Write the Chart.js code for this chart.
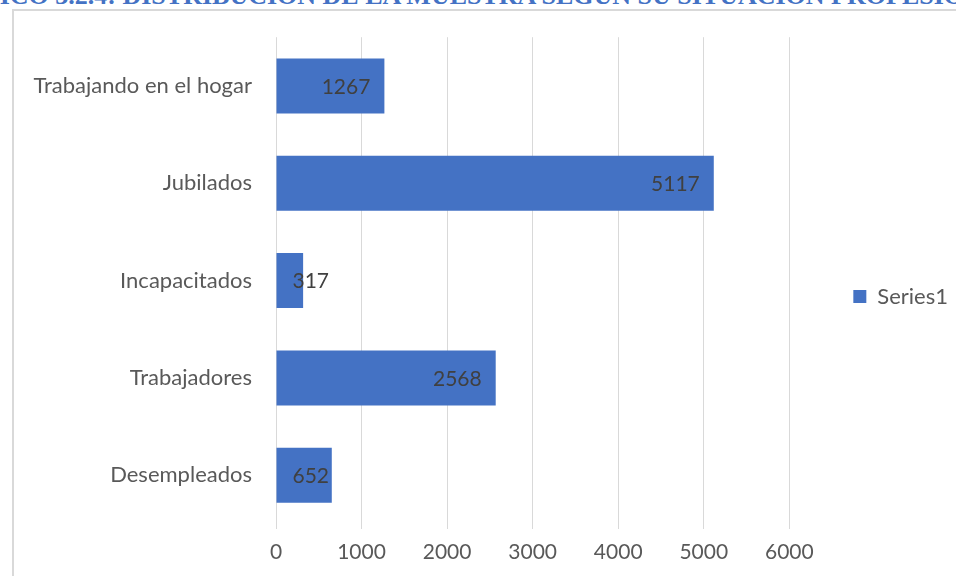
<!DOCTYPE html>
<html>
<head>
<meta charset="utf-8">
<script src="https://cdn.jsdelivr.net/npm/chart.js@4"></script>
<style>
  html, body { margin: 0; padding: 0; background: #fff; }
  body { width: 956px; height: 576px; overflow: hidden; position: relative; }
  #titulo { position: absolute; top: -19px; left: 0; white-space: nowrap; line-height: 1;
    font: bold 26px "Liberation Serif", "Times New Roman", serif; color: #4472c4; }
  #marco { position: absolute; left: 12px; top: 9px; width: 1100px; height: 700px;
    border: 2px solid #d9d9d9; box-sizing: border-box; }
  #caja { position: absolute; left: 0; top: 0; width: 956px; height: 576px; }
</style>
</head>
<body>
<div id="titulo"><span id="corte">GRÁF</span>ICO 3.2.4: DISTRIBUCIÓN DE LA MUESTRA SEGÚN SU SITUACIÓN PROFESIONAL</div>
<div id="marco"></div>
<div id="caja"><canvas id="graph" width="956" height="576"></canvas></div>
<script>
// recortar el titulo como en la imagen
const corte = document.getElementById('corte')
document.getElementById('titulo').style.left = (-corte.offsetWidth) + 'px'

// datos
const categorias = ['Trabajando en el hogar', 'Jubilados', 'Incapacitados', 'Trabajadores', 'Desempleados']
const valores = [1267, 5117, 317, 2568, 652]
const serie = 'Series1'
const marcasX = [0, 1000, 2000, 3000, 4000, 5000, 6000]

const fuente = 'Lato, "Open Sans", sans-serif'
const tam = 22

// etiquetas de datos dentro del extremo de la barra
const etiquetas = {
  id: 'etiquetas',
  afterLayout(chart) {
    // subir un poco la leyenda
    chart.legend.top -= 10
    chart.legend.bottom -= 10
  },
  afterDatasetsDraw(chart) {
    const ctx = chart.ctx
    const meta = chart.getDatasetMeta(0)
    ctx.save()
    ctx.font = '21px ' + fuente
    ctx.fillStyle = '#404040'
    ctx.textAlign = 'right'
    ctx.textBaseline = 'middle'
    meta.data.forEach((bar, i) => {
      const txt = String(chart.data.datasets[0].data[i])
      const w = ctx.measureText(txt).width
      const x = Math.max(bar.x - 14, bar.base + 16 + w)
      ctx.fillText(txt, x, bar.y + 1)
    })
    ctx.restore()
  }
}

const data = {
  labels: categorias,
  datasets: [{
    label: serie,
    data: valores,
    backgroundColor: '#4472c4',
    borderWidth: 0,
    categoryPercentage: 1,
    barPercentage: 0.565
  }]
}

const config = {
  type: 'bar',
  data: data,
  plugins: [etiquetas],
  options: {
    indexAxis: 'y',
    responsive: false,
    animation: false,
    layout: { padding: { top: 37, left: 0, right: -2, bottom: 0 } },
    plugins: {
      tooltip: { enabled: false },
      legend: {
        position: 'right',
        labels: {
          boxWidth: 13, boxHeight: 13, padding: 64,
          color: '#595959',
          font: { family: fuente, size: tam }
        }
      }
    },
    scales: {
      x: {
        min: 0, max: 6000,
        afterBuildTicks(s) { s.ticks = marcasX.map(v => ({ value: v })) },
        afterFit(s) { s.height = 52 },
        grid: { color: '#d9d9d9', lineWidth: 1, tickLength: 5 },
        border: { display: false },
        ticks: { color: '#595959', padding: 11, font: { family: fuente, size: 21 },
          callback: v => String(v) }
      },
      y: {
        afterFit(s) { s.width = 276 },
        grid: { display: false, drawTicks: false },
        border: { display: false },
        ticks: { color: '#595959', padding: 24, font: { family: fuente, size: tam } }
      }
    }
  }
}

const myChart = new Chart(document.getElementById('graph'), config)
</script>
</body>
</html>
